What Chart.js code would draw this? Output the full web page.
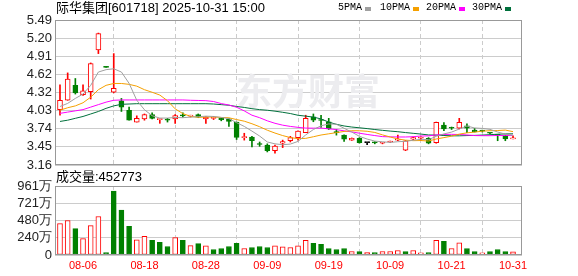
<!DOCTYPE html>
<html>
<head>
<meta charset="utf-8">
<script src="https://cdn.jsdelivr.net/npm/chart.js@4.4.1/dist/chart.umd.min.js"></script>
<style>
  html, body { margin: 0; padding: 0; background: #fff; }
  #wrap { position: relative; width: 578px; height: 276px; overflow: hidden; }
  #priceChart { position: absolute; left: 0; top: 0; }
  #volChart { position: absolute; left: 0; top: 170px; }
  .txt { position: absolute; white-space: nowrap; font: 13px "Liberation Sans", "Noto Sans CJK SC", sans-serif; color: #000; line-height: 16px; }
  .lg { position: absolute; white-space: nowrap; font: 10px "Liberation Mono", monospace; color: #000; line-height: 16px; top: 0; }
  .sq { position: absolute; width: 6px; height: 4px; top: 7px; }
</style>
</head>
<body>
<div id="wrap">
  <canvas id="priceChart" width="578" height="185"></canvas>
  <canvas id="volChart" width="578" height="106"></canvas>
  <div class="txt" style="left:56px;top:0px;">际华集团[601718] 2025-10-31 15:00</div>
  <div class="lg" style="left:338px;">5PMA</div><div class="sq" style="left:365px;background:#a0a0a0;"></div>
  <div class="lg" style="left:380px;">10PMA</div><div class="sq" style="left:413px;background:#f5a000;"></div>
  <div class="lg" style="left:426px;">20PMA</div><div class="sq" style="left:459px;background:#ff00ff;"></div>
  <div class="lg" style="left:472px;">30PMA</div><div class="sq" style="left:505px;background:#00703c;"></div>
  <div class="txt" style="left:56px;top:169px;">成交量:452773</div>
</div>
<script>
// trading days shown
const dates = [
  '08-01','08-04','08-05','08-06','08-07','08-08','08-11','08-12','08-13','08-14',
  '08-15','08-18','08-19','08-20','08-21','08-22','08-25','08-26','08-27','08-28',
  '08-29','09-01','09-02','09-03','09-04','09-05','09-08','09-09','09-10','09-11',
  '09-12','09-15','09-16','09-17','09-18','09-19','09-22','09-23','09-24','09-25',
  '09-26','09-29','09-30','10-09','10-10','10-13','10-14','10-15','10-16','10-17',
  '10-20','10-21','10-22','10-23','10-24','10-27','10-28','10-29','10-30','10-31'
];
const openP = [4.05,4.20,4.44,4.29,4.34,5.01,4.74,4.33,4.19,4.04,
  3.85,3.90,3.97,3.89,3.89,3.90,3.96,3.945,3.97,3.90,
  3.91,3.91,3.90,3.85,3.60,3.61,3.50,3.48,3.39,3.51,
  3.55,3.60,3.68,3.935,3.885,3.855,3.69,3.64,3.56,3.59,
  3.52,3.525,3.51,3.53,3.56,3.40,3.575,3.59,3.59,3.52,
  3.80,3.755,3.75,3.79,3.72,3.71,3.675,3.645,3.63,3.58];
const highP = [4.45,4.64,4.55,4.45,4.80,5.28,4.74,4.95,4.23,4.09,
  3.95,3.98,4.00,3.90,3.91,3.97,4.00,3.96,3.98,3.94,
  3.94,3.91,3.91,3.85,3.67,3.62,3.53,3.50,3.48,3.56,
  3.62,3.71,3.96,3.98,3.96,3.91,3.73,3.645,3.595,3.60,
  3.52,3.535,3.525,3.545,3.64,3.555,3.61,3.615,3.60,3.85,
  3.84,3.77,3.91,3.82,3.75,3.72,3.68,3.65,3.64,3.63];
const lowP = [3.96,4.20,4.30,4.28,4.22,4.95,4.73,4.32,4.02,3.88,
  3.85,3.88,3.90,3.83,3.85,3.83,3.93,3.93,3.92,3.83,
  3.89,3.87,3.78,3.57,3.56,3.45,3.46,3.37,3.35,3.44,
  3.53,3.56,3.68,3.855,3.765,3.73,3.64,3.54,3.555,3.51,
  3.485,3.50,3.50,3.52,3.55,3.39,3.565,3.55,3.50,3.51,
  3.71,3.73,3.74,3.68,3.69,3.69,3.66,3.55,3.55,3.58];
const closeP = [4.20,4.54,4.32,4.35,4.79,5.27,4.73,4.39,4.09,3.88,
  3.91,3.97,3.91,3.90,3.88,3.955,3.95,3.955,3.93,3.93,
  3.92,3.89,3.86,3.605,3.61,3.55,3.49,3.39,3.465,3.535,
  3.60,3.705,3.91,3.88,3.875,3.74,3.68,3.575,3.59,3.52,
  3.52,3.515,3.52,3.54,3.575,3.55,3.60,3.60,3.51,3.845,
  3.74,3.75,3.845,3.75,3.69,3.705,3.67,3.635,3.58,3.59];
const prevClose0 = 4.02;

// volume, in 万
const volumes = [438,480,367,227,410,536,35,891,624,400,
  213,260,203,175,119,241,203,131,159,129,
  77,91,119,161,91,105,119,105,129,115,
  105,129,203,161,147,91,77,91,49,49,
  35,35,49,49,63,49,63,31,35,203,
  189,91,171,91,49,31,49,77,49,45];

const ma5 = [4.10,4.15,4.23,4.30,4.44,4.654,4.692,4.706,4.654,4.472,
  4.20,4.048,3.952,3.914,3.914,3.924,3.92,3.93,3.935,3.945,
  3.94,3.925,3.905,3.84,3.78,3.705,3.625,3.53,3.50,3.486,
  3.496,3.539,3.643,3.73,3.79,3.82,3.815,3.75,3.69,3.62,
  3.577,3.544,3.533,3.523,3.534,3.54,3.557,3.573,3.567,3.621,
  3.659,3.689,3.738,3.786,3.755,3.748,3.732,3.69,3.656,3.636];
const ma10 = [4.04,4.08,4.11,4.16,4.25,4.37,4.44,4.47,4.47,4.456,
  4.427,4.37,4.329,4.284,4.193,4.062,3.986,3.942,3.926,3.931,
  3.932,3.924,3.919,3.89,3.864,3.823,3.775,3.719,3.673,3.633,
  3.601,3.583,3.588,3.614,3.642,3.661,3.68,3.699,3.711,3.71,
  3.702,3.683,3.644,3.61,3.578,3.559,3.551,3.553,3.545,3.578,
  3.60,3.623,3.656,3.677,3.688,3.704,3.711,3.714,3.721,3.696];
const ma20 = [3.99,4.01,4.03,4.05,4.09,4.13,4.17,4.20,4.205,4.205,
  4.205,4.205,4.205,4.205,4.205,4.205,4.205,4.20,4.197,4.194,
  4.18,4.147,4.124,4.088,4.029,3.96,3.92,3.87,3.83,3.80,
  3.78,3.765,3.753,3.752,3.753,3.742,3.728,3.709,3.692,3.671,
  3.651,3.633,3.616,3.612,3.61,3.61,3.615,3.626,3.628,3.644,
  3.651,3.653,3.65,3.643,3.633,3.631,3.631,3.634,3.633,3.637];
const ma30 = [3.86,3.88,3.91,3.94,3.98,4.02,4.07,4.11,4.135,4.14,
  4.145,4.145,4.145,4.145,4.145,4.145,4.145,4.145,4.145,4.145,
  4.14,4.13,4.12,4.10,4.085,4.065,4.05,4.04,4.025,4.007,
  3.987,3.959,3.945,3.93,3.90,3.849,3.814,3.787,3.77,3.758,
  3.745,3.73,3.717,3.705,3.695,3.681,3.669,3.657,3.643,3.64,
  3.634,3.629,3.629,3.633,3.636,3.641,3.647,3.655,3.659,3.661];

const priceTickLabels = ['3.16','3.45','3.74','4.03','4.32','4.62','4.91','5.20','5.49'];
const volTickLabels = ['0','240万','480万','721万','961万'];
const dateTickIdx = [3, 11, 19, 27, 35, 43, 51, 59];

const priceMin = 3.16, priceMax = 5.49;
const volMax = 961;
const UP = '#ff0000', DOWN = '#008000', FLAT = '#000000';

function candleColor(i) {
  const c = closeP[i], o = openP[i];
  if (c > o) return UP;
  if (c < o) return DOWN;
  const p = i ? closeP[i - 1] : prevClose0;
  return c > p ? UP : (c < p ? DOWN : FLAT);
}
function volColor(i) {
  const p = i ? closeP[i - 1] : prevClose0;
  return closeP[i] >= p ? UP : DOWN;
}

const idx = dates.map((d, i) => i);
const cColors = idx.map(candleColor);
const vColors = idx.map(volColor);

const xMin = -0.65, xMax = 60.17;

// frame round the plot area
const framePlugin = {
  id: 'frame',
  afterDraw(chart) {
    const a = chart.chartArea, ctx = chart.ctx;
    ctx.save();
    ctx.strokeStyle = '#999';
    ctx.lineWidth = 1;
    ctx.strokeRect(Math.round(a.left) + 0.5, Math.round(a.top) + 0.5,
      Math.round(a.right - a.left) - 1, Math.round(a.bottom - a.top) - 1);
    ctx.restore();
  }
};

const watermark = {
  id: 'watermark',
  beforeDatasetsDraw(chart) {
    const ctx = chart.ctx;
    ctx.save();
    ctx.fillStyle = '#ececef';
    ctx.font = 'bold 36px "Noto Sans CJK SC"';
    ctx.textBaseline = 'middle';
    ctx.fillText('东方财富', 236, 91);
    ctx.restore();
  }
};

function xScale(showLabels) {
  return {
    type: 'linear',
    min: xMin,
    max: xMax,
    offset: false,
    afterBuildTicks: s => { s.ticks = dateTickIdx.map(v => ({ value: v })); },
    afterFit: s => { s.height = showLabels ? 21 : 0; },
    grid: { color: '#cccccc', drawTicks: false },
    border: { display: false, dash: [4, 3] },
    ticks: {
      display: showLabels,
      autoSkip: false,
      maxRotation: 0,
      padding: 4,
      color: '#ff0000',
      font: { family: 'Liberation Sans', size: 11 },
      callback: v => dates[v]
    }
  };
}

function yTicks(labels) {
  return {
    autoSkip: false,
    padding: 3,
    color: '#222',
    font: { family: 'Liberation Sans', size: 13 },
    callback: (v, k) => labels[k]
  };
}

const lineDs = (label, data, color) => ({
  type: 'line',
  label,
  data: data.map((v, i) => ({ x: i, y: v })),
  borderColor: color,
  borderWidth: 1,
  pointRadius: 0,
  tension: 0
});

new Chart(document.getElementById('priceChart'), {
  type: 'bar',
  data: {
    datasets: [
      lineDs('5PMA', ma5, '#a0a0a0'),
      lineDs('10PMA', ma10, '#f5a000'),
      lineDs('20PMA', ma20, '#ff00ff'),
      lineDs('30PMA', ma30, '#00703c'),
      {
        label: 'body',
        data: idx.map(i => ({ x: i, y: [openP[i], closeP[i]] })),
        backgroundColor: cColors.map(c => c === UP ? '#ffffff' : c),
        borderColor: cColors,
        borderWidth: 1,
        borderSkipped: false,
        barThickness: 5,
        minBarLength: 1,
        grouped: false
      },
      {
        label: 'wick',
        data: idx.map(i => ({ x: i, y: [lowP[i], highP[i]] })),
        backgroundColor: cColors,
        borderWidth: 0,
        barThickness: 1,
        minBarLength: 1,
        grouped: false
      }
    ]
  },
  options: {
    responsive: false,
    animation: false,
    devicePixelRatio: 1,
    events: [],
    layout: { padding: { left: 0, top: 20, right: 56, bottom: 20 } },
    plugins: { legend: { display: false }, tooltip: { enabled: false } },
    scales: {
      x: xScale(false),
      y: {
        min: priceMin,
        max: priceMax,
        afterBuildTicks: s => {
          s.ticks = priceTickLabels.map((t, k) => ({ value: priceMin + k * (priceMax - priceMin) / 8 }));
        },
        afterFit: s => { s.width = 55; },
        grid: { color: '#cccccc', drawTicks: false },
        border: { display: false },
        ticks: yTicks(priceTickLabels)
      }
    }
  },
  plugins: [watermark, framePlugin]
});

new Chart(document.getElementById('volChart'), {
  type: 'bar',
  data: {
    datasets: [{
      label: 'volume',
      data: idx.map(i => ({ x: i, y: volumes[i] })),
      backgroundColor: vColors.map(c => c === UP ? '#ffffff' : c),
      borderColor: vColors,
      borderWidth: 1,
      borderSkipped: false,
      barThickness: 5,
      grouped: false
    }]
  },
  options: {
    responsive: false,
    animation: false,
    devicePixelRatio: 1,
    events: [],
    layout: { padding: { left: 0, top: 16, right: 56, bottom: 0 } },
    plugins: { legend: { display: false }, tooltip: { enabled: false } },
    scales: {
      x: xScale(true),
      y: {
        min: 0,
        max: volMax,
        afterBuildTicks: s => {
          s.ticks = volTickLabels.map((t, k) => ({ value: k * volMax / 4 }));
        },
        afterFit: s => { s.width = 55; },
        grid: { color: '#cccccc', drawTicks: false },
        border: { display: false },
        ticks: yTicks(volTickLabels)
      }
    }
  },
  plugins: [framePlugin]
});
</script>
</body>
</html>
